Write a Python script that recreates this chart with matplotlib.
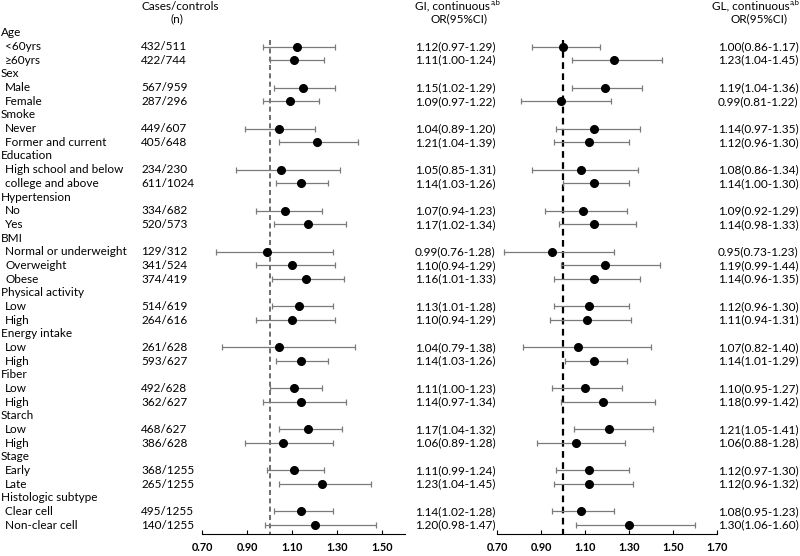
import matplotlib
matplotlib.use("Agg")
import matplotlib.pyplot as plt
import matplotlib.transforms as mtransforms
import numpy as np

plt.rcParams['font.family'] = ['Lato', 'DejaVu Sans']

# groups and how many subgroups each one has
groups = ["Age", "Sex", "Smoke", "Education", "Hypertension", "BMI", "Physical activity",
          "Energy intake", "Fiber", "Starch", "Stage", "Histologic subtype"]
group_sizes = [2, 2, 2, 2, 2, 3, 2, 2, 2, 2, 2, 2]

subgroups = ["<60yrs", "\u226560yrs", "Male", "Female", "Never", "Former and current",
             "High school and below", "college and above", "No", "Yes",
             "Normal or underweight", "Overweight", "Obese", "Low", "High", "Low", "High",
             "Low", "High", "Low", "High", "Early", "Late", "Clear cell", "Non-clear cell"]
cases = ["432/511", "422/744", "567/959", "287/296", "449/607", "405/648", "234/230",
         "611/1024", "334/682", "520/573", "129/312", "341/524", "374/419", "514/619",
         "264/616", "261/628", "593/627", "492/628", "362/627", "468/627", "386/628",
         "368/1255", "265/1255", "495/1255", "140/1255"]

gi_or = [1.12, 1.11, 1.15, 1.09, 1.04, 1.21, 1.05, 1.14, 1.07, 1.17, 0.99, 1.10, 1.16,
         1.13, 1.10, 1.04, 1.14, 1.11, 1.14, 1.17, 1.06, 1.11, 1.23, 1.14, 1.20]
gi_lo = [0.97, 1.00, 1.02, 0.97, 0.89, 1.04, 0.85, 1.03, 0.94, 1.02, 0.76, 0.94, 1.01,
         1.01, 0.94, 0.79, 1.03, 1.00, 0.97, 1.04, 0.89, 0.99, 1.04, 1.02, 0.98]
gi_hi = [1.29, 1.24, 1.29, 1.22, 1.20, 1.39, 1.31, 1.26, 1.23, 1.34, 1.28, 1.29, 1.33,
         1.28, 1.29, 1.38, 1.26, 1.23, 1.34, 1.32, 1.28, 1.24, 1.45, 1.28, 1.47]

gl_or = [1.00, 1.23, 1.19, 0.99, 1.14, 1.12, 1.08, 1.14, 1.09, 1.14, 0.95, 1.19, 1.14,
         1.12, 1.11, 1.07, 1.14, 1.10, 1.18, 1.21, 1.06, 1.12, 1.12, 1.08, 1.30]
gl_lo = [0.86, 1.04, 1.04, 0.81, 0.97, 0.96, 0.86, 1.00, 0.92, 0.98, 0.73, 0.99, 0.96,
         0.96, 0.94, 0.82, 1.01, 0.95, 0.99, 1.05, 0.88, 0.97, 0.96, 0.95, 1.06]
gl_hi = [1.17, 1.45, 1.36, 1.22, 1.35, 1.30, 1.34, 1.30, 1.29, 1.33, 1.23, 1.44, 1.35,
         1.30, 1.31, 1.40, 1.29, 1.27, 1.42, 1.41, 1.28, 1.30, 1.32, 1.23, 1.60]

gi_ticks = [0.70, 0.90, 1.10, 1.30, 1.50]
gl_ticks = [0.70, 0.90, 1.10, 1.30, 1.50, 1.70]

# row positions: header row for each group followed by its subgroups
group_rows = []
sub_rows = []
r = 0
for n in group_sizes:
    group_rows.append(r)
    r += 1
    for _ in range(n):
        sub_rows.append(r)
        r += 1
sub_rows = np.array(sub_rows)

W, H = 800, 556
fig = plt.figure(figsize=(W / 100, H / 100), dpi=100)

y_top, y_bot = -2.41, 36.65
ax1 = fig.add_axes([202 / W, 22 / H, 203 / W, 534 / H])
ax2 = fig.add_axes([497 / W, 22 / H, 220 / W, 534 / H])

fs = 8.5
for ax, orv, lo, hi, ticks, xlim, vcol in [
        (ax1, gi_or, gi_lo, gi_hi, gi_ticks, (0.7, 1.6), "#555555"),
        (ax2, gl_or, gl_lo, gl_hi, gl_ticks, (0.7, 1.7), "black")]:
    orv = np.array(orv)
    err = [orv - np.array(lo), np.array(hi) - orv]
    ax.errorbar(orv, sub_rows, xerr=err, fmt="none", ecolor="#7a7a7a",
                elinewidth=0.9, capsize=2.5, capthick=0.9, zorder=2)
    ax.plot(orv, sub_rows, "o", color="black", markersize=5.5, zorder=3)
    ax.plot([1, 1], [0.5, y_bot], linestyle=(0, (3, 2)), color=vcol,
            linewidth=1.2 if ax is ax1 else 1.6, zorder=1)
    ax.set_xlim(*xlim)
    ax.set_ylim(y_bot, y_top)
    ax.set_xticks(ticks)
    ax.set_xticklabels([f"{t:.2f}" for t in ticks], fontsize=7.8, fontweight="bold")
    ax.tick_params(axis="x", direction="in", length=3, width=0.8, pad=6)
    ax.set_yticks([])
    for s in ["top", "left", "right"]:
        ax.spines[s].set_visible(False)
    ax.spines["bottom"].set_linewidth(0.8)
    ax.patch.set_alpha(0)

tr = mtransforms.blended_transform_factory(fig.transFigure, ax1.transData)


def fx(px):
    return px / W


for g, row in zip(groups, group_rows):
    fig.text(fx(1), row, g, transform=tr, fontsize=fs, va="center", ha="left")
for s, c, row, a, b, cc, d, e, f in zip(subgroups, cases, sub_rows, gi_or, gi_lo, gi_hi,
                                        gl_or, gl_lo, gl_hi):
    fig.text(fx(5), row, s, transform=tr, fontsize=fs, va="center", ha="left")
    fig.text(fx(141), row, c, transform=tr, fontsize=fs, va="center", ha="left")
    fig.text(fx(415), row, f"{a:.2f}({b:.2f}-{cc:.2f})", transform=tr, fontsize=fs,
             va="center", ha="left")
    fig.text(fx(718), row, f"{d:.2f}({e:.2f}-{f:.2f})", transform=tr, fontsize=fs,
             va="center", ha="left")

# headers
fig.text(fx(141), 1 - 6 / H, "Cases/controls", fontsize=fs, va="center", ha="left")
fig.text(fx(177), 1 - 19 / H, "(n)", fontsize=fs, va="center", ha="center")
t1 = fig.text(fx(415), 1 - 6 / H, "GI, continuous", fontsize=fs, va="center", ha="left")
fig.text(fx(459), 1 - 19 / H, "OR(95%CI)", fontsize=fs, va="center", ha="center")
t2 = fig.text(fx(712), 1 - 6 / H, "GL, continuous", fontsize=fs, va="center", ha="left")
fig.text(fx(759), 1 - 19 / H, "OR(95%CI)", fontsize=fs, va="center", ha="center")
for t in (t1, t2):
    fig.add_artist(plt.Annotation("a,b", xy=(1, 1), xycoords=t, xytext=(0.3, 0.8),
                                  textcoords="offset points", fontsize=5.6,
                                  va="top", ha="left"))

fig.savefig("out.png", dpi=100)
